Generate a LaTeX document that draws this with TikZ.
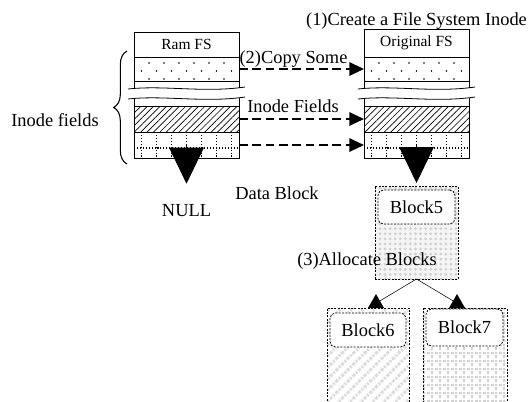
\documentclass[tikz,border=0pt]{standalone}
\usepackage{fontspec}
\setmainfont{Liberation Serif}
\usepackage{tikz}
\usetikzlibrary{arrows.meta,calc,positioning,patterns.meta,decorations.pathreplacing}
\newcommand{\fssmall}{\fontsize{11.6}{13}\selectfont}

\begin{document}
\begin{tikzpicture}[x=0.75pt,y=-0.75pt,>=Stealth,
  font=\fontsize{13.8}{16}\selectfont,
  fsrow/.style={draw,line width=0.7pt,minimum width=78.75pt,inner sep=0pt,outer sep=0pt},
  hatchfill/.style={pattern={Lines[angle=45,distance=3.4pt,line width=0.5pt]}},
  griddot/.style={line width=0.8pt,dash pattern=on 0.8pt off 1.4pt},
  copyarrow/.style={line width=1.5pt,dash pattern=on 6.5pt off 3.5pt,-{Triangle[length=11pt,width=10pt]}},
  bigtip/.style={line width=0.6pt,-{Triangle[length=27pt,width=26pt]}},
  blockbox/.style={draw,line width=0.6pt,dash pattern=on 1.5pt off 1pt,inner sep=0pt,outer sep=0pt},
  blockname/.style={draw,fill=white,line width=0.6pt,dash pattern=on 1.5pt off 1pt,rounded corners=4pt,inner sep=0pt},
  lbl/.style={inner sep=0pt}]
\useasboundingbox (0,0) rectangle (532,401);
% ---- Ram FS inode ----
\begin{scope}[shift={(134,0)}]
  \node[fsrow,minimum height=18.75pt,font=\fssmall] (ramtitle) at (52.5,44.5) {Ram FS};
  \node[fsrow,minimum height=18pt] (ramdots) at (52.5,69) {};
  \foreach \x in {15,30,...,90} {
    \fill (\x,63) circle (0.7pt);
    \fill (\x,79) circle (0.7pt);
  }
  \foreach \x in {7.5,22.5,...,97.5} \fill (\x,71) circle (0.7pt);
  \draw[line width=0.7pt] (0,88) -- (0,81) (105,81) -- (105,88);
  \draw[line width=0.7pt] (0,98) -- (0,106) (105,98) -- (105,106);
  % break
  \draw[line width=0.6pt] (-6,89) .. controls (30,85) and (70,93) .. (111,87);
  \draw[line width=0.6pt] (-6,99) .. controls (30,95) and (70,103) .. (111,97);
  \node[fsrow,minimum height=19.5pt,hatchfill] (ramhatch) at (52.5,119) {};
  \node[fsrow,minimum height=19.5pt] (ramgrid) at (52.5,145) {};
  \foreach \x in {7.5,22.5,...,97.5} \draw[griddot] (\x,132) -- (\x,158);
  \draw[griddot] (0,148) -- (105,148);
\end{scope}
% ---- Original FS inode ----
\begin{scope}[shift={(364,0)}]
  \node[fsrow,minimum height=21pt,font=\fssmall] (origtitle) at (52.5,43) {Original FS};
  \node[fsrow,minimum height=18pt] (origdots) at (52.5,69) {};
  \foreach \x in {15,30,...,90} {
    \fill (\x,63) circle (0.7pt);
    \fill (\x,79) circle (0.7pt);
  }
  \foreach \x in {7.5,22.5,...,97.5} \fill (\x,71) circle (0.7pt);
  \draw[line width=0.7pt] (0,88) -- (0,81) (105,81) -- (105,88);
  \draw[line width=0.7pt] (0,98) -- (0,106) (105,98) -- (105,106);
  % break
  \draw[line width=0.6pt] (-6,89) .. controls (30,85) and (70,93) .. (111,87);
  \draw[line width=0.6pt] (-6,99) .. controls (30,95) and (70,103) .. (111,97);
  \node[fsrow,minimum height=19.5pt,hatchfill] (orighatch) at (52.5,119) {};
  \node[fsrow,minimum height=19.5pt] (origgrid) at (52.5,145) {};
  \foreach \x in {7.5,22.5,...,97.5} \draw[griddot] (\x,132) -- (\x,158);
  \draw[griddot] (0,148) -- (105,148);
\end{scope}
% ---- labels ----
\node[lbl,anchor=base] (createlbl) at (416.5,25) {(1)Create a File System Inode};
\node[lbl,anchor=base] (copylbl) at (293.5,63) {(2)Copy Some};
\node[lbl,anchor=base] (fieldslbl) at (293,112) {Inode Fields};
\node[lbl,anchor=base] (inodelbl) at (55,126) {Inode fields};
\node[lbl,anchor=base] (datalbl) at (277,199) {Data Block};
\node[lbl,anchor=base] (nulllbl) at (186.5,216) {NULL};
\draw[decorate,decoration={brace,amplitude=10pt},line width=0.8pt] (127,164) -- (127,51);
% ---- copy arrows ----
\draw[copyarrow] (ramdots) -- (origdots);
\draw[copyarrow] (ramhatch) -- (orighatch);
\draw[copyarrow] (ramgrid) -- (origgrid);
% ---- data blocks ----
\node[blockbox,minimum width=62.25pt,minimum height=69.75pt,
  preaction={fill=gray!8},pattern={Dots[radius=1.2pt,distance=3.8pt]},pattern color=gray!35] (block5) at (416.5,232.5) {};
\node[blockname,minimum width=57.75pt,minimum height=25.5pt] (b5name) at (416.5,207) {Block5};
\node[blockbox,minimum width=61.5pt,minimum height=76.5pt,
  pattern={Lines[angle=45,distance=6pt,line width=2.2pt]},pattern color=gray!28] (block6) at (368,359) {};
\node[blockname,minimum width=57pt,minimum height=25.5pt] (b6name) at (368,330) {Block6};
\node[blockbox,minimum width=63pt,minimum height=76.5pt,
  pattern={Hatch[angle=0,distance=6pt,line width=1pt]},pattern color=gray!35] (block7) at (465,359) {};
\node[blockname,minimum width=57.75pt,minimum height=27.75pt] (b7name) at (464.5,327.5) {Block7};
\node[lbl,anchor=base] (allocatelbl) at (367,265) {(3)Allocate Blocks};
% ---- pointers ----
\draw[bigtip,shorten >=15pt] (ramgrid.center) -- (nulllbl.north);
\draw[bigtip,shorten >=2.25pt] (origgrid.center) -- (block5.north);
\draw[line width=0.4pt] (block5.south) -- (block6.north);
\draw[line width=0.4pt] (block5.south) -- (block7.north);
\fill ($(block6.north)+(8,0)$) ++(-8,0) -- ++(16,0) -- ++(-8,-14) -- cycle;
\fill ($(block7.north)+(-8,0)$) ++(-8,0) -- ++(16,0) -- ++(-8,-14) -- cycle;
\end{tikzpicture}
\end{document}
